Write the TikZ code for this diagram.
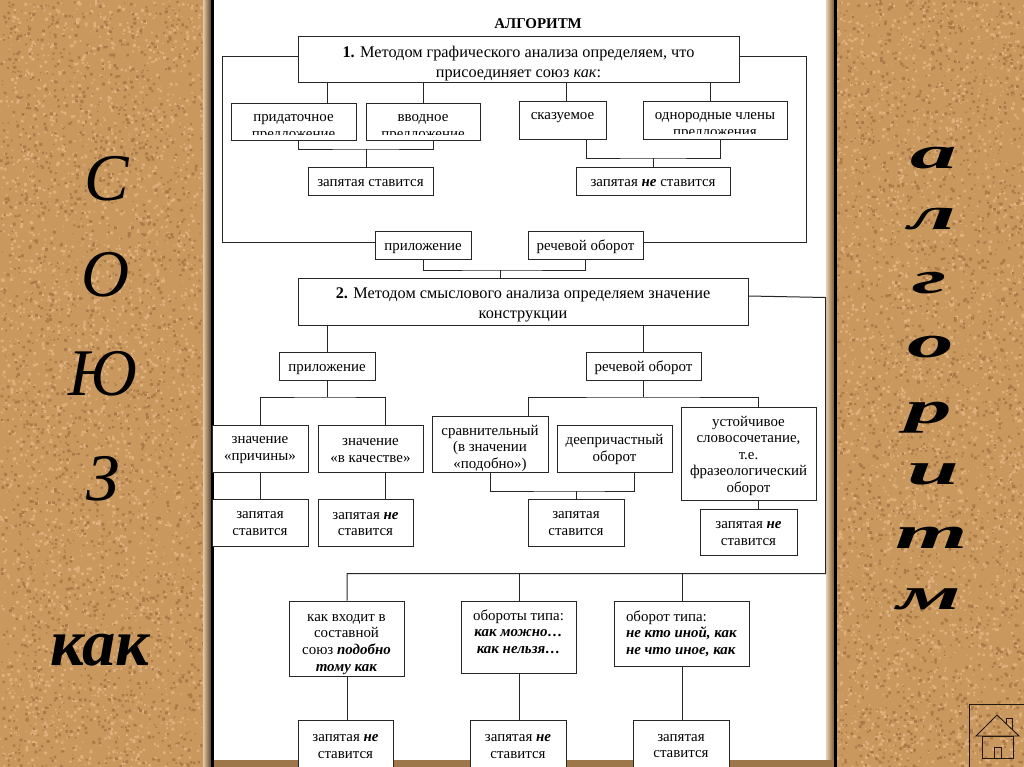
\documentclass[tikz,border=0pt]{standalone}
\usepackage{fontspec}
\setmainfont{Liberation Serif}
\newcommand{\lift}[1]{\rule{0pt}{#1pt}}
\tikzset{
  box/.style 2 args={draw=black!85, line width=0.75pt, fill=white, align=center, inner sep=0pt,
    font=\fontsize{11.2}{12.4}\selectfont, minimum width=#1*0.75pt, minimum height=#2*0.75pt},
  oneline/.style 2 args={box={#1}{#2}, text height=9.5pt, text depth=1.5pt},
  head/.style 2 args={box={#1}{#2}, font=\fontsize{12.2}{15}\selectfont},
  cutbox/.style n args={3}{box={#1}{#2}, path picture={
    \node[draw=none, fill=none, minimum width=0pt, minimum height=0pt, anchor=north]
      at ([yshift=-8.5pt]path picture bounding box.north) {#3};
    \fill[white] (path picture bounding box.south west) rectangle ([yshift=3.4pt]path picture bounding box.south east);}},
  link/.style={line width=0.75pt, draw=black!85},
  sideletter/.style={inner sep=0pt, anchor=base, font=\fontsize{50}{50}\selectfont\itshape},
  wideletter/.style={inner sep=0pt, anchor=base, xscale=2.05, font=\fontsize{34}{34}\selectfont\bfseries\itshape},
  homeline/.style={draw=black!80!corkdark, line width=0.7pt}
}
\newcommand{\corkdots}[3]{\fill[#1] foreach \i [evaluate=\i as \xa using #3+rnd*204,
  evaluate=\i as \ya using rnd*767, evaluate=\i as \sa using 1+rnd*2] in {1,...,#2}{
  (\xa,\ya) rectangle ++(\sa,\sa)};}
\definecolor{corkbase}{HTML}{C9985F}
\definecolor{corklight}{HTML}{DFB07C}
\definecolor{corkdark}{HTML}{AC7A48}
\begin{document}
\begin{tikzpicture}[x=0.75pt, y=-0.75pt]
\clip (0,0) rectangle (1024,767);
\fill[corkbase] (0,0) rectangle (1024,767);
\pgfmathsetseed{7}
\begin{scope}
\clip (0,0) rectangle (204,767);
\corkdots{corklight}{3000}{0}
\corkdots{corkdark}{2400}{0}
\end{scope}
\begin{scope}
\clip (837,0) rectangle (1024,767);
\corkdots{corklight}{3000}{825}
\corkdots{corkdark}{2400}{825}
\end{scope}
\shade[left color=corklight!70!white, right color=black!55!corkbase] (203,0) rectangle (211,767);
\shade[left color=corklight!60!white, right color=black!40!corkbase] (826,0) rectangle (834,767);
\fill[white] (214,0) rectangle (826,760);
\fill[black!22!corkbase] (214,760) rectangle (834,767);
\fill[black] (211,0) rectangle (214,767);
\fill[black] (834,0) rectangle (837,767);

\node[sideletter] (letc) at (107,200) {С};
\node[sideletter] (leto) at (106,296) {О};
\node[sideletter] (letu) at (103,395) {Ю};
\node[sideletter] (letz) at (103,500) {З};
\node[sideletter] (kak) at (100,665) {\bfseries как};

\node[wideletter] (wa) at (934,168) {а};
\node[wideletter] (wb) at (932,229) {л};
\node[wideletter] (wc) at (930,293) {г};
\node[wideletter] (wd) at (931,357) {о};
\node[wideletter] (we) at (929,423) {р};
\node[wideletter] (wf) at (933,484) {и};
\node[wideletter] (wg) at (932,548) {т};
\node[wideletter] (wh) at (929,609) {м};

\node[inner sep=0pt, font=\fontsize{11.2}{12}\selectfont\bfseries] (title) at (538,24) {АЛГОРИТМ};
\node[head={441}{46}] (stepone) at (518.5,60) {\lift{13.5}\textbf{1.} Методом графического анализа определяем, что\\присоединяет союз \textit{как}:};
\node[cutbox={125}{37}{придаточное\\предложение}] (prid) at (293.5,121.5) {};
\node[cutbox={114}{37}{вводное\\предложение}] (vvod) at (423,121.5) {};
\node[cutbox={87}{38}{сказуемое}] (skaz) at (562.5,120) {};
\node[cutbox={144}{38}{однородные члены\\предложения}] (odnor) at (715,120) {};
\node[oneline={125}{28}] (zapa) at (370.5,181) {запятая ставится};
\node[oneline={154}{28}] (zapb) at (653,181) {запятая \textbf{\textit{не}} ставится};
\node[oneline={96}{28}] (prila) at (423,245) {приложение};
\node[oneline={115}{28}] (rechA) at (585.5,245) {речевой оборот};
\node[head={450}{47}] (steptwo) at (523,301.5) {\lift{12.5}\textbf{2.} Методом смыслового анализа определяем значение\\конструкции};

\node[oneline={96}{28}] (prilb) at (327,366) {приложение};
\node[oneline={115}{28}] (rechB) at (643.5,366) {речевой оборот};
\node[box={96}{47}] (prich) at (260,448.5) {\lift{8}значение\\«причины»};
\node[box={105}{47}] (kach) at (370.5,448.5) {\lift{8}значение\\«в качестве»};
\node[box={116}{56}] (srav) at (490,444) {\lift{14}сравнительный\\(в значении\\«подобно»)};
\node[box={115}{47}] (deep) at (614.5,448.5) {\lift{9.5}деепричастный\\оборот};
\node[box={135}{93}] (ustoi) at (748.5,453.5) {\lift{11}устойчивое\\словосочетание,\\т.е.\\фразеологический\\оборот};
\node[box={96}{47}] (zapc) at (260,522.5) {\lift{6.5}запятая\\ставится};
\node[box={95}{47}] (zapd) at (365.5,522.5) {\lift{7.5}запятая \textbf{\textit{не}}\\ставится};
\node[box={96}{47}] (zape) at (576,522.5) {\lift{6.5}запятая\\ставится};
\node[box={97}{46}] (zapf) at (748.5,532) {\lift{7.5}запятая \textbf{\textit{не}}\\ставится};

\node[box={115}{75}] (sost) at (346.5,638.5) {\lift{14}как входит в\\составной\\союз \textbf{\textit{подобно}}\\\textbf{\textit{тому как}}};
\node[box={115}{72}] (tipa) at (518.5,637) {\lift{10}обороты типа:\\\textbf{\textit{как можно…}}\\\textbf{\textit{как нельзя…}}\\[-2pt]\mbox{}};
\node[box={135}{65}, align=left] (tipb) at (681.5,633.5) {оборот типа:\\\textbf{\textit{не кто иной, как}}\\\textbf{\textit{не что иное, как}}};
\node[box={95}{48}] (zapg) at (345.5,744) {\lift{9}запятая \textbf{\textit{не}}\\ставится};
\node[box={96}{48}] (zaph) at (518,744) {\lift{9}запятая \textbf{\textit{не}}\\ставится};
\node[box={96}{48}] (zapi) at (681,744) {\lift{8}запятая\\ставится};

\coordinate (joina) at (366,149);
\coordinate (joinb) at (653,158);
\coordinate (joinc) at (500,270);
\coordinate (joind) at (327,397);
\coordinate (joine) at (643,397);
\coordinate (joinf) at (576,491);
\coordinate (rail) at (825.5,573.5);

\draw[link] (stepone.west |- 0,57) -| (222,242) -- (prila.west |- 0,242);
\draw[link] (stepone.east |- 0,57) -| (806,242) -- (rechA.east |- 0,242);
\draw[link] (stepone.south -| 327,0) -- (prid.north -| 327,0);
\draw[link] (stepone.south -| 423,0) -- (vvod.north -| 423,0);
\draw[link] (stepone.south -| 566,0) -- (skaz.north -| 566,0);
\draw[link] (stepone.south -| 710,0) -- (odnor.north -| 710,0);
\draw[link] (prid.south -| 298,0) |- (joina) -| (vvod.south -| 433,0);
\draw[link] (joina) -- (zapa.north -| joina);
\draw[link] (skaz.south -| 586,0) |- (joinb) -| (odnor.south -| 720,0);
\draw[link] (joinb) -- (zapb.north -| joinb);
\draw[link] (prila.south) |- (joinc) -| (rechA.south);
\draw[link] (joinc) -- (steptwo.north -| joinc);

\draw[link] (steptwo.south -| prilb) -- (prilb.north);
\draw[link] (steptwo.south -| 643,0) -- (rechB.north -| 643,0);
\draw[link] (prilb.south) -- (joind);
\draw[link] (prich.north) |- (joind) -| (kach.north -| 385,0);
\draw[link] (prich.south) -- (zapc.north);
\draw[link] (kach.south -| 385,0) -- (zapd.north -| 385,0);
\draw[link] (rechB.south -| joine) -- (joine);
\draw[link] (srav.north -| 528,0) |- (joine) -| (ustoi.north -| 758,0);
\draw[link] (srav.south) |- (joinf) -| (deep.south -| 634,0);
\draw[link] (joinf) -- (zape.north);
\draw[link] (ustoi.south -| 758,0) -- (zapf.north -| 758,0);

\draw[link] (steptwo.east |- 0,296) -- (825.5,297.5) -- (rail) -- (347,573.5) -- (sost.north -| 347,0);
\draw[link] (519,573.5) -- (tipa.north -| 519,0);
\draw[link] (682,573.5) -- (tipb.north -| 682,0);
\draw[link] (sost.south -| 347,0) -- (zapg.north -| 347,0);
\draw[link] (tipa.south -| 519,0) -- (zaph.north -| 519,0);
\draw[link] (tipb.south -| 682,0) -- (zapi.north -| 682,0);

\draw[homeline] (969,767) -- (969,704) -- (1024,704);
\draw[homeline] (976,736) -- (997,715) -- (1019,736) -- cycle;
\draw[homeline] (1006,724) -- (1006,718) -- (1012,718) -- (1012,730);
\draw[homeline] (982,736) rectangle (1013,758);
\draw[homeline] (994,758) -- (994,747) -- (1001,747) -- (1001,758);
\end{tikzpicture}
\end{document}
